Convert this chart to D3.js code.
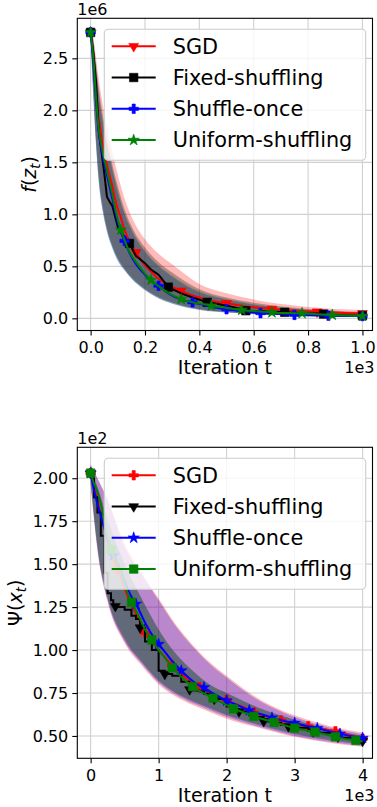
<!DOCTYPE html>
<html>
<head>
<meta charset="utf-8">
<script src="https://cdnjs.cloudflare.com/ajax/libs/d3/7.8.5/d3.min.js"></script>
<style>
  body { margin: 0; background: #fff; }
  svg text { font-family: "DejaVu Sans", sans-serif; fill: #000; }
</style>
</head>
<body>
<div id="chart"></div>
<script>
// legend entries, same order in both panels
var seriesNames = ["SGD", "Fixed-shuffling", "Shuffle-once", "Uniform-shuffling"];
var seriesColors = ["#ff0000", "#000000", "#0000ff", "#008000"];

// ---------- top panel: f(z_t), values in units of 1e6 ----------
var topT = [0, 10, 20, 30, 40, 50, 60, 70, 80, 90, 100, 111, 125, 143, 167, 200, 222, 250, 286, 333,
            375, 429, 444, 500, 556, 571, 625, 667, 714, 750, 778, 833, 857, 875, 889, 1000];
var topSgd = [2.75, 2.55, 2.2, 1.92, 1.74, 1.6, 1.48, 1.37, 1.27, 1.15, 1.05, 0.97, 0.85, 0.74, 0.634, 0.51, 0.45, 0.38, 0.32, 0.265,
              0.22, 0.18, 0.17, 0.144, 0.12, 0.114, 0.1, 0.089, 0.08, 0.075, 0.071, 0.063, 0.06, 0.058, 0.056, 0.048];
var topFixed = [2.75, 2.55, 2.27, 1.8, 1.6, 1.4, 1.17, 1.12, 1.08, 0.98, 0.88, 0.84, 0.78, 0.72, 0.6, 0.53, 0.47, 0.42, 0.3, 0.24,
                0.2, 0.154, 0.15, 0.12, 0.09, 0.073, 0.07, 0.066, 0.058, 0.055, 0.05, 0.046, 0.041, 0.03, 0.03, 0.025];
var topOnce = [2.75, 2.45, 2.08, 1.79, 1.62, 1.49, 1.38, 1.26, 1.15, 1.03, 0.92, 0.83, 0.745, 0.63, 0.52, 0.42, 0.36, 0.313, 0.24, 0.18,
               0.154, 0.12, 0.112, 0.087, 0.07, 0.066, 0.05, 0.046, 0.04, 0.033, 0.031, 0.028, 0.027, 0.025, 0.025, 0.022];
var topUniform = [2.75, 2.5, 2.12, 1.82, 1.66, 1.53, 1.42, 1.3, 1.19, 1.06, 0.95, 0.85, 0.75, 0.64, 0.54, 0.43, 0.368, 0.31, 0.245, 0.185,
                  0.155, 0.13, 0.121, 0.1, 0.08, 0.076, 0.066, 0.057, 0.052, 0.05, 0.048, 0.04, 0.036, 0.034, 0.032, 0.022];
// iterations where markers sit
var topMarks = [
  [0, 167, 333, 500, 667, 833, 1000],
  [0, 143, 286, 429, 571, 714, 857, 1000],
  [0, 125, 250, 375, 500, 625, 750, 875, 1000],
  [0, 111, 222, 333, 444, 556, 667, 778, 889, 1000]
];
// shaded spread
var topBandT = [0, 10, 20, 30, 45, 60, 80, 100, 125, 150, 200, 250, 300, 400, 500, 600, 800, 1000];
var topSgdHi = [2.77, 2.7, 2.5, 2.3, 2.05, 1.85, 1.6, 1.38, 1.15, 0.98, 0.76, 0.62, 0.52, 0.33, 0.24, 0.18, 0.11, 0.08];
var topSgdLo = [2.72, 2.2, 1.72, 1.37, 1.07, 0.87, 0.7, 0.58, 0.48, 0.4, 0.285, 0.205, 0.155, 0.09, 0.062, 0.045, 0.026, 0.018];
var topFixedHi = [2.77, 2.68, 2.45, 2.22, 1.95, 1.73, 1.48, 1.27, 1.05, 0.89, 0.68, 0.54, 0.44, 0.28, 0.2, 0.15, 0.09, 0.06];
var topFixedLo = [2.72, 2.18, 1.7, 1.35, 1.05, 0.86, 0.69, 0.57, 0.47, 0.39, 0.28, 0.2, 0.15, 0.088, 0.06, 0.044, 0.025, 0.017];
var topOnceHi = [2.77, 2.64, 2.38, 2.14, 1.87, 1.66, 1.42, 1.21, 1.0, 0.85, 0.64, 0.5, 0.4, 0.25, 0.18, 0.13, 0.08, 0.05];
var topOnceLo = [2.72, 2.12, 1.65, 1.3, 1.02, 0.83, 0.67, 0.55, 0.46, 0.38, 0.27, 0.19, 0.14, 0.08, 0.055, 0.04, 0.022, 0.014];
var topUniformHi = [2.77, 2.65, 2.4, 2.16, 1.89, 1.68, 1.44, 1.23, 1.01, 0.86, 0.65, 0.51, 0.41, 0.26, 0.185, 0.135, 0.082, 0.052];
var topUniformLo = [2.72, 2.14, 1.67, 1.32, 1.03, 0.84, 0.68, 0.56, 0.465, 0.385, 0.272, 0.192, 0.142, 0.082, 0.056, 0.041, 0.023, 0.015];
var topXTicks = [0, 200, 400, 600, 800, 1000];
var topYTicks = [0, 0.5, 1.0, 1.5, 2.0, 2.5];

// ---------- bottom panel: Psi(x_t), values in units of 1e2 ----------
var botT = [0, 50, 100, 150, 200, 250, 300, 333, 364, 400, 500, 600, 667, 727, 800, 900, 1000, 1091, 1200, 1333,
            1455, 1500, 1600, 1667, 1800, 1818, 2000, 2100, 2182, 2333, 2400, 2545, 2667, 2700, 2800, 2909, 3000, 3200,
            3273, 3300, 3333, 3600, 3636, 3667, 3900, 4000];
var botSgd = [2.03, 1.95, 1.87, 1.79, 1.71, 1.64, 1.57, 1.53, 1.5, 1.47, 1.36, 1.26, 1.21, 1.16, 1.1, 1.05, 1.0, 0.96, 0.91, 0.86,
              0.82, 0.808, 0.785, 0.77, 0.74, 0.736, 0.71, 0.69, 0.678, 0.652, 0.636, 0.618, 0.604, 0.6, 0.59, 0.578, 0.57, 0.556,
              0.55, 0.548, 0.545, 0.527, 0.523, 0.52, 0.495, 0.484];
var botFixed = [2.03, 1.89, 1.8, 1.665, 1.45, 1.33, 1.29, 1.262, 1.255, 1.25, 1.235, 1.2, 1.18, 1.13, 1.05, 1.0, 0.88, 0.86, 0.85, 0.815,
                0.77, 0.765, 0.76, 0.745, 0.72, 0.715, 0.672, 0.655, 0.642, 0.62, 0.61, 0.585, 0.578, 0.575, 0.565, 0.555, 0.548, 0.53,
                0.525, 0.52, 0.518, 0.5, 0.495, 0.49, 0.475, 0.47];
var botOnce = [2.03, 1.93, 1.85, 1.78, 1.71, 1.64, 1.58, 1.55, 1.525, 1.5, 1.4, 1.31, 1.268, 1.22, 1.16, 1.09, 1.034, 0.99, 0.935, 0.88,
               0.835, 0.82, 0.795, 0.782, 0.748, 0.744, 0.705, 0.69, 0.675, 0.648, 0.638, 0.622, 0.606, 0.602, 0.592, 0.582, 0.575, 0.556,
               0.55, 0.548, 0.545, 0.518, 0.515, 0.512, 0.494, 0.488];
var botUniform = [2.03, 1.97, 1.92, 1.85, 1.75, 1.66, 1.585, 1.55, 1.52, 1.49, 1.38, 1.278, 1.23, 1.18, 1.12, 1.059, 1.0, 0.955, 0.897, 0.845,
                  0.8, 0.787, 0.762, 0.748, 0.72, 0.716, 0.68, 0.658, 0.647, 0.625, 0.614, 0.597, 0.583, 0.579, 0.568, 0.556, 0.546, 0.53,
                  0.525, 0.523, 0.52, 0.495, 0.492, 0.489, 0.474, 0.468];
var botMarks = [
  [0, 400, 800, 1200, 1600, 2000, 2400, 2800, 3200, 3600, 4000],
  [0, 364, 727, 1091, 1455, 1818, 2182, 2545, 2909, 3273, 3636, 4000],
  [0, 333, 667, 1000, 1333, 1667, 2000, 2333, 2667, 3000, 3333, 3667, 4000],
  [0, 300, 600, 900, 1200, 1500, 1800, 2100, 2400, 2700, 3000, 3300, 3600, 3900]
];
var botBandT = [0, 100, 250, 500, 750, 1000, 1250, 1500, 1750, 2000, 2500, 3000, 3500, 4000];
var botSgdHi = [2.08, 2.0, 1.88, 1.62, 1.45, 1.3, 1.15, 1.03, 0.93, 0.85, 0.71, 0.62, 0.56, 0.52];
var botSgdLo = [1.96, 1.58, 1.28, 1.04, 0.91, 0.8, 0.73, 0.68, 0.64, 0.6, 0.545, 0.495, 0.46, 0.437];
var botFixedHi = [2.05, 1.95, 1.76, 1.5, 1.3, 1.12, 0.98, 0.88, 0.8, 0.75, 0.66, 0.595, 0.54, 0.5];
var botFixedLo = [1.98, 1.6, 1.3, 1.06, 0.93, 0.82, 0.75, 0.7, 0.66, 0.62, 0.56, 0.51, 0.475, 0.45];
var botOnceHi = [2.08, 2.0, 1.87, 1.6, 1.44, 1.29, 1.14, 1.02, 0.92, 0.84, 0.7, 0.61, 0.55, 0.51];
var botOnceLo = [1.97, 1.59, 1.29, 1.05, 0.92, 0.81, 0.74, 0.69, 0.65, 0.61, 0.55, 0.5, 0.466, 0.442];
var botUniformHi = [2.05, 1.95, 1.76, 1.5, 1.3, 1.12, 0.98, 0.88, 0.8, 0.75, 0.66, 0.595, 0.54, 0.5];
var botUniformLo = [1.99, 1.61, 1.31, 1.07, 0.935, 0.825, 0.755, 0.705, 0.665, 0.625, 0.565, 0.515, 0.48, 0.455];
var botXTicks = [0, 1000, 2000, 3000, 4000];
var botYTicks = [0.5, 0.75, 1.0, 1.25, 1.5, 1.75, 2.0];

var svg = d3.select("#chart").append("svg")
  .attr("width", 377)
  .attr("height", 807);

// marker shapes
var shapes = {
  tri: { type: d3.symbolTriangle, size: 42, rot: 180 },
  sq: { type: d3.symbolSquare, size: 72, rot: 0 },
  plus: { type: d3.symbolCross, size: 50, rot: 0 },
  star: { type: d3.symbolStar, size: 40, rot: 0 }
};

function drawMarker(g, shape, cx, cy, color) {
  var s = shapes[shape];
  g.append("path")
    .attr("d", d3.symbol().type(s.type).size(s.size)())
    .attr("transform", "translate(" + cx + "," + cy + ") rotate(" + s.rot + ")")
    .style("fill", color)
    .style("stroke", color)
    .style("stroke-width", 0.6);
}

function drawPanel(p) {
  var x = d3.scaleLinear().domain(p.xDomain).range([p.left, p.right]);
  var y = d3.scaleLinear().domain(p.yDomain).range([p.bottom, p.top]);
  var g = svg.append("g");

  // grid
  g.selectAll(".gx").data(p.xTicks).enter().append("line")
    .attr("x1", function(d) { return x(d); }).attr("x2", function(d) { return x(d); })
    .attr("y1", p.top).attr("y2", p.bottom)
    .style("stroke", "#d0d0d0").style("stroke-width", 1.1);
  g.selectAll(".gy").data(p.yTicks).enter().append("line")
    .attr("y1", function(d) { return y(d); }).attr("y2", function(d) { return y(d); })
    .attr("x1", p.left).attr("x2", p.right)
    .style("stroke", "#d0d0d0").style("stroke-width", 1.1);

  // shaded bands
  p.series.forEach(function(s) {
    var area = d3.area()
      .x(function(d, j) { return x(p.bandT[j]); })
      .y0(function(d, j) { return y(s.lo[j]); })
      .y1(function(d, j) { return y(s.hi[j]); })
      .curve(d3.curveMonotoneX);
    g.append("path")
      .datum(s.hi)
      .attr("d", area)
      .style("fill", s.color)
      .style("fill-opacity", 0.27)
      .style("stroke", "none");
  });

  // mean lines + markers
  p.series.forEach(function(s) {
    var line = d3.line()
      .x(function(d, j) { return x(p.t[j]); })
      .y(function(d) { return y(d); })
      .curve(s.curve);
    g.append("path")
      .datum(s.values)
      .attr("d", line)
      .style("fill", "none")
      .style("stroke", s.color)
      .style("stroke-width", 2);
    s.marks.forEach(function(mt) {
      var j = p.t.indexOf(mt);
      drawMarker(g, s.shape, x(mt), y(s.values[j]), s.color);
    });
  });

  // axes
  var xAxis = g.append("g")
    .attr("transform", "translate(0," + p.bottom + ")")
    .call(d3.axisBottom(x).tickValues(p.xTicks).tickFormat(p.xFormat).tickSize(5).tickPadding(6));
  var yAxis = g.append("g")
    .attr("transform", "translate(" + p.left + ",0)")
    .call(d3.axisLeft(y).tickValues(p.yTicks).tickFormat(p.yFormat).tickSize(5).tickPadding(4));
  [xAxis, yAxis].forEach(function(a) {
    a.select(".domain").remove();
    a.selectAll("line").style("stroke", "#000").style("stroke-width", 1.1);
    a.selectAll("text").style("font-size", "16px").style("font-family", "DejaVu Sans").attr("fill", "#000");
  });

  // frame
  g.append("rect")
    .attr("x", p.left).attr("y", p.top)
    .attr("width", p.right - p.left).attr("height", p.bottom - p.top)
    .style("fill", "none").style("stroke", "#000").style("stroke-width", 1.1);

  // offset texts
  g.append("text").attr("x", p.left).attr("y", p.top - 3.7)
    .style("font-size", "16px").text(p.yOffset);
  g.append("text").attr("x", 374.5).attr("y", p.bottom + 42.2)
    .attr("text-anchor", "end")
    .style("font-size", "16px").text("1e3");

  // axis labels
  g.append("text")
    .attr("x", (p.left + p.right) / 2).attr("y", p.bottom + 43.5)
    .attr("text-anchor", "middle")
    .style("font-size", "19px")
    .text("Iteration t");
  var yl = g.append("text")
    .attr("transform", "translate(" + p.yLabelX + "," + ((p.top + p.bottom) / 2) + ") rotate(-90)")
    .attr("text-anchor", "middle")
    .style("font-size", "19px");
  p.yLabel.forEach(function(part) {
    var ts = yl.append("tspan").text(part.s);
    if (part.it) ts.style("font-style", "italic");
    if (part.small) ts.style("font-size", "13.3px");
    if (part.dy) ts.attr("dy", part.dy);
  });

  // legend
  var lg = g.append("g");
  lg.append("rect")
    .attr("x", 104.3).attr("y", p.top + 11)
    .attr("width", 261.4).attr("height", 131)
    .attr("rx", 4).attr("ry", 4)
    .style("fill", "#fff").style("fill-opacity", 0.8)
    .style("stroke", "#cccccc").style("stroke-width", 1.1);
  p.series.forEach(function(s, i) {
    var cy = p.top + 28 + i * 31.25;
    lg.append("line")
      .attr("x1", 111.7).attr("x2", 155.7)
      .attr("y1", cy).attr("y2", cy)
      .style("stroke", s.color).style("stroke-width", 2);
    drawMarker(lg, s.shape, 133.7, cy, s.color);
    lg.append("text")
      .attr("x", 172.7).attr("y", cy + 7.2)
      .style("font-size", "20.8px")
      .text(s.name);
  });
}

drawPanel({
  left: 77.3, right: 372.5, top: 18.3, bottom: 330.5,
  xDomain: [-49, 1037], yDomain: [-0.117, 2.885],
  xTicks: topXTicks, yTicks: topYTicks,
  xFormat: function(d) { return (d / 1000).toFixed(1); },
  yFormat: function(d) { return d.toFixed(1); },
  yOffset: "1e6",
  yLabelX: 36,
  yLabel: [{ s: "f", it: true }, { s: "(" }, { s: "z", it: true }, { s: "t", it: true, small: true, dy: 4 }, { s: ")", dy: -4 }],
  t: topT, bandT: topBandT,
  series: [
    { name: seriesNames[0], color: seriesColors[0], values: topSgd, hi: topSgdHi, lo: topSgdLo, marks: topMarks[0], shape: "tri", curve: d3.curveMonotoneX },
    { name: seriesNames[1], color: seriesColors[1], values: topFixed, hi: topFixedHi, lo: topFixedLo, marks: topMarks[1], shape: "sq", curve: d3.curveLinear },
    { name: seriesNames[2], color: seriesColors[2], values: topOnce, hi: topOnceHi, lo: topOnceLo, marks: topMarks[2], shape: "plus", curve: d3.curveMonotoneX },
    { name: seriesNames[3], color: seriesColors[3], values: topUniform, hi: topUniformHi, lo: topUniformLo, marks: topMarks[3], shape: "star", curve: d3.curveMonotoneX }
  ]
});

drawPanel({
  left: 77.3, right: 372.5, top: 447.3, bottom: 758.3,
  xDomain: [-196, 4145], yDomain: [0.37, 2.18],
  xTicks: botXTicks, yTicks: botYTicks,
  xFormat: function(d) { return d / 1000; },
  yFormat: function(d) { return d.toFixed(2); },
  yOffset: "1e2",
  yLabelX: 22,
  yLabel: [{ s: "\u03A8(" }, { s: "x", it: true }, { s: "t", it: true, small: true, dy: 4 }, { s: ")", dy: -4 }],
  t: botT, bandT: botBandT,
  series: [
    { name: seriesNames[0], color: seriesColors[0], values: botSgd, hi: botSgdHi, lo: botSgdLo, marks: botMarks[0], shape: "plus", curve: d3.curveMonotoneX },
    { name: seriesNames[1], color: seriesColors[1], values: botFixed, hi: botFixedHi, lo: botFixedLo, marks: botMarks[1], shape: "tri", curve: d3.curveStepAfter },
    { name: seriesNames[2], color: seriesColors[2], values: botOnce, hi: botOnceHi, lo: botOnceLo, marks: botMarks[2], shape: "star", curve: d3.curveMonotoneX },
    { name: seriesNames[3], color: seriesColors[3], values: botUniform, hi: botUniformHi, lo: botUniformLo, marks: botMarks[3], shape: "sq", curve: d3.curveMonotoneX }
  ]
});
</script>
</body>
</html>
